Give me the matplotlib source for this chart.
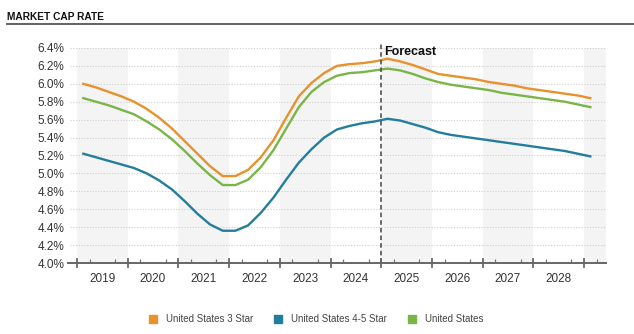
import numpy as np
import pandas as pd
from matplotlib import pyplot as plt
from matplotlib.ticker import MultipleLocator, FuncFormatter, FixedLocator

plt.rcParams['font.family'] = ['Liberation Sans', 'DejaVu Sans']

quarters = pd.period_range('2019Q1', '2029Q1', freq='Q')

star3 = [6.00, 5.96, 5.91, 5.86, 5.80, 5.72, 5.62, 5.50, 5.36, 5.22, 5.08, 4.97,
         4.97, 5.04, 5.18, 5.37, 5.62, 5.86, 6.01, 6.12, 6.20, 6.22, 6.23, 6.25,
         6.28, 6.25, 6.21, 6.16, 6.11, 6.09, 6.07, 6.05, 6.02, 6.00, 5.98, 5.95,
         5.93, 5.91, 5.89, 5.87, 5.84]
star45 = [5.22, 5.18, 5.14, 5.10, 5.06, 5.00, 4.92, 4.82, 4.69, 4.55, 4.43, 4.36,
          4.36, 4.42, 4.56, 4.73, 4.93, 5.12, 5.27, 5.40, 5.49, 5.53, 5.56, 5.58,
          5.61, 5.59, 5.55, 5.51, 5.46, 5.43, 5.41, 5.39, 5.37, 5.35, 5.33, 5.31,
          5.29, 5.27, 5.25, 5.22, 5.19]
us = [5.84, 5.80, 5.76, 5.71, 5.66, 5.58, 5.49, 5.38, 5.25, 5.11, 4.98, 4.87,
      4.87, 4.93, 5.07, 5.26, 5.50, 5.74, 5.91, 6.02, 6.09, 6.12, 6.13, 6.15,
      6.17, 6.15, 6.11, 6.06, 6.02, 5.99, 5.97, 5.95, 5.93, 5.90, 5.88, 5.86,
      5.84, 5.82, 5.80, 5.77, 5.74]
years = list(range(2019, 2029))
forecast_start = 2025

xs = np.array([q.year + (q.quarter - 0.5) / 4 for q in quarters])

c3, c45, cus = '#E8912D', '#237E9C', '#7AB547'

fig = plt.figure(figsize=(6.34, 3.34), dpi=100)
ax = fig.add_axes([70 / 634, 71 / 334, 536 / 634, 215 / 334])

x0, x1 = 2019 - 7 / 50.7, 2029 + 22 / 50.7
ax.set_xlim(x0, x1)
ax.set_ylim(4.0, 6.4)

for y in range(2019, 2031, 2):
    ax.axvspan(y, y + 1, color='#f4f4f4', lw=0, zorder=0)

ax.yaxis.set_major_locator(MultipleLocator(0.2))
ax.yaxis.set_major_formatter(FuncFormatter(lambda v, p: f'{v:.1f}%'))
ax.grid(axis='y', color='#d0d0d0', ls=(0, (1, 1.5)), lw=0.8, zorder=1)

ax.plot(xs, star3, color=c3, lw=1.7, zorder=3, solid_joinstyle='round')
ax.plot(xs, us, color=cus, lw=1.7, zorder=3, solid_joinstyle='round')
ax.plot(xs, star45, color=c45, lw=1.7, zorder=3, solid_joinstyle='round')

ax.axvline(forecast_start, ymin=0, ymax=1.02, color='#444444', ls=(0, (3, 2)),
           lw=1.1, clip_on=False, zorder=4)
ax.text(forecast_start + 0.06, 6.35, 'Forecast', fontsize=9, fontweight='bold',
        color='#111111', va='center', ha='left')

ax.xaxis.set_minor_locator(FixedLocator([y + q / 4 for y in range(2018, 2030)
                                         for q in range(1, 4)]))
ax.set_xticks([y + 0.5 for y in years])
ax.set_xticklabels([str(y) for y in years])
ax.tick_params(axis='x', which='major', length=0, pad=7, labelsize=8.5,
               labelcolor='#333333')
for y in range(2019, 2030):
    ax.plot([y, y], [-0.02, 0.02], transform=ax.get_xaxis_transform(),
            color='#666666', lw=1.3, clip_on=False, zorder=5)
ax.tick_params(axis='x', which='minor', direction='in', length=3,
               color='#777777', width=0.9)
ax.tick_params(axis='y', length=0, pad=4, labelsize=8.5, labelcolor='#333333')

for s in ['top', 'right', 'left']:
    ax.spines[s].set_visible(False)
ax.spines['bottom'].set_color('#666666')
ax.spines['bottom'].set_linewidth(1.4)
ax.spines['bottom'].set_bounds(2019 - 9 / 50.7, x1)

fig.text(7 / 634, 1 - 17 / 334, 'MARKET CAP RATE', fontsize=7.3,
         fontweight='bold', color='#111111', va='center', ha='left')
fig.add_artist(plt.Line2D([7 / 634, 1], [1 - 24 / 334] * 2, color='#555555',
                          lw=1.3, transform=fig.transFigure))

handles = [plt.Line2D([], [], marker='s', ls='', color=c, markersize=5.8)
           for c in (c3, c45, cus)]
fig.legend(handles, ['United States 3 Star', 'United States 4-5 Star',
                     'United States'], loc='center', ncol=3,
           bbox_to_anchor=(0.499, 1 - 319 / 334), frameon=False, fontsize=7,
           handlelength=0.8, handletextpad=0.9, columnspacing=2.2,
           labelcolor='#444444')

fig.savefig('out.png', dpi=100)
